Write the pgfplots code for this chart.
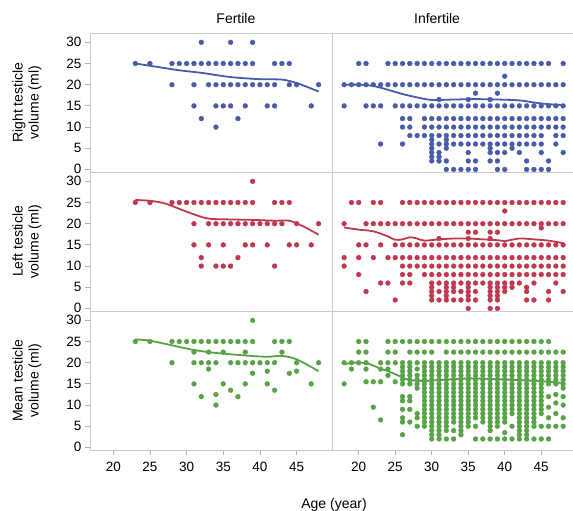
\documentclass[border=0pt]{standalone}
\usepackage{fontspec}
\setmainfont{Liberation Sans}
\usepackage{pgfplots}
\pgfplotsset{compat=1.18}
\definecolor{bdot}{RGB}{72,92,168}
\definecolor{rdot}{RGB}{192,56,78}
\definecolor{gdot}{RGB}{88,162,72}
\pgfplotsset{
 panel/.style={scale only axis, height=139pt, ymin=-0.6, ymax=32.2,
   axis line style={draw=gray!40, line width=0.9pt},
   tick style={draw=gray!60, line width=0.8pt}, tick align=outside,
   major tick length=5pt,
   font=\fontsize{13.5}{16}\selectfont,
   /pgf/number format/assume math mode=true,
   xtick=\empty, ytick=\empty,
   xticklabel style={yshift=-4pt},
   yticklabel={\ifdim\tick pt=0pt \raisebox{1.6pt}{0}\else\ifdim\tick pt=30pt \raisebox{-1.6pt}{30}\else\pgfmathprintnumber{\tick}\fi\fi},
   title style={font=\fontsize{14}{16}\selectfont, anchor=base, yshift=3pt},
   ylabel style={align=center, font=\fontsize{14}{16}\selectfont, at={(axis description cs:-0.26,0.5)}, anchor=center}},
 leftp/.style={width=242pt, xmin=16.82, xmax=49.83, ytick={0,5,...,30}, ytick pos=left},
 rightp/.style={width=241pt, xmin=16.34, xmax=49.35},
 bottomp/.style={xtick={20,25,...,45}, xtick pos=bottom},
 dots/.style={only marks, mark=*, mark size=2.4pt, mark options={draw=#1, fill=#1}},
 fit/.style={no marks, smooth, line width=1.8pt, color=#1},
}
\begin{document}
\begin{tikzpicture}[x=1pt,y=1pt]
\useasboundingbox (0,0) rectangle (573,511);
% ---------- top left
\begin{axis}[panel, leftp, at={(90pt,478pt)}, anchor=north west,
  title={Fertile}, title style={at={(0.603,1)}},
  ylabel={Right testicle\\volume (ml)}]
\addplot[dots=bdot] coordinates {(32,30)(36,30)(39,30)
(23,25)(25,25)(28,25)(29,25)(30,25)(31,25)(32,25)(33,25)(34,25)(35,25)(36,25)(37,25)(38,25)(39,25)(42,25)(43,25)(44,25)
(28,20)(31,20)(33,20)(34,20)(35,20)(36,20)(37,20)(38,20)(39,20)(40,20)(41,20)(42,20)(44,20)(45,20)(48,20)
(31,15)(34,15)(35,15)(36,15)(38,15)(41,15)(42,15)(47,15)
(32,12)(37,12)(34,10)};
\addplot[fit=bdot] coordinates {(23,25.0)(26,24.2)(29,23.4)(32,22.8)(36,21.8)(40,21.3)(43,21.2)(45,20.4)(48,18.4)};
\end{axis}
% ---------- top right
\begin{axis}[panel, rightp, at={(332pt,478pt)}, anchor=north west,
  title={Infertile}, title style={at={(0.436,1)}}]
\addplot[dots=bdot] coordinates {
(20,25)(21,25)(24,25)(25,25)(26,25)(27,25)(28,25)(29,25)(30,25)(31,25)(32,25)(33,25)(34,25)(35,25)(36,25)(37,25)(38,25)(39,25)(40,25)(41,25)(42,25)(43,25)(44,25)(45,25)(46,25)(48,25)
(40,22)
(18,20)(19,20)(20,20)(21,20)(22,20)(23,20)(24,20)(25,20)(26,20)(27,20)(28,20)(29,20)(30,20)(31,20)(32,20)(33,20)(34,20)(35,20)(36,20)(37,20)(38,20)(39,20)(40,20)(41,20)(42,20)(43,20)(44,20)(45,20)(46,20)(47,20)(48,20)
(36,18)(39,18)(31,16.5)(35,16.5)(38,16.5)
(18,15)(21,15)(22,15)(23,15)(25,15)(26,15)(27,15)(28,15)(29,15)(30,15)(31,15)(32,15)(33,15)(34,15)(35,15)(36,15)(37,15)(38,15)(39,15)(40,15)(41,15)(42,15)(43,15)(44,15)(45,15)(46,15)(47,15)(48,15)
(26,12)(27,12)(29,12)(30,12)(31,12)(32,12)(33,12)(34,12)(35,12)(36,12)(37,12)(38,12)(39,12)(40,12)(41,12)(42,12)(43,12)(44,12)(45,12)(46,12)(47,12)(48,12)
(26,10)(27,10)(29,10)(30,10)(31,10)(32,10)(33,10)(34,10)(35,10)(36,10)(37,10)(38,10)(39,10)(40,10)(41,10)(42,10)(43,10)(44,10)(45,10)(46,10)(47,10)(48,10)
(27,8)(28,8)(29,8)(30,8)(31,8)(32,8)(33,8)(34,8)(35,8)(36,8)(37,8)(38,8)(39,8)(40,8)(41,8)(42,8)(43,8)(44,8)(45,8)(47,8)(48,8)
(30,7)(32,7)
(23,6)(26,6)(30,6)(31,6)(32,6)(33,6)(34,6)(35,6)(36,6)(37,6)(38,6)(39,6)(40,6)(41,6)(42,6)(43,6)(44,6)(45,6)(47,6)
(30,5)(32,5)(38,5)(41,5)
(30,4)(31,4)(35,4)(38,4)(39,4)(40,4)(42,4)(45,4)(48,4)
(30,3)(31,3)
(30,2)(31,2)(32,2)(35,2)(36,2)(38,2)(39,2)(43,2)(46,2)
(32,0)(33,0)(34,0)(35,0)(36,0)(39,0)(40,0)(43,0)(44,0)(45,0)(46,0)};
\addplot[fit=bdot] coordinates {(18,20.0)(20,20.0)(22,19.7)(24,18.8)(26,17.8)(28,17.0)(30,16.4)(33,16.5)(36,16.6)(39,16.5)(42,16.3)(44,15.8)(46,15.4)(48,15.2)};
\end{axis}
% ---------- middle left
\begin{axis}[panel, leftp, at={(90pt,339pt)}, anchor=north west,
  ylabel={Left testicle\\volume (ml)}]
\addplot[dots=rdot] coordinates {(39,30)
(23,25)(25,25)(28,25)(29,25)(30,25)(31,25)(32,25)(33,25)(34,25)(35,25)(36,25)(37,25)(38,25)(39,25)(42,25)(43,25)(44,25)
(31,20)(33,20)(34,20)(35,20)(36,20)(37,20)(38,20)(39,20)(40,20)(41,20)(42,20)(43,20)(45,20)(48,20)
(31,15)(33,15)(35,15)(38,15)(39,15)(41,15)(44,15)(45,15)(47,15)
(32,12)(37,12)
(32,10)(34,10)(35,10)(36,10)(42,10)};
\addplot[fit=rdot] coordinates {(23,25.6)(25,25.4)(27,24.8)(29,23.5)(31,22.2)(33,21.2)(36,21.0)(39,20.9)(42,20.7)(44,20.7)(46,19.3)(48,17.4)};
\end{axis}
% ---------- middle right
\begin{axis}[panel, rightp, at={(332pt,339pt)}, anchor=north west]
\addplot[dots=rdot] coordinates {
(19,25)(20,25)(22,25)(23,25)(26,25)(27,25)(28,25)(29,25)(30,25)(31,25)(32,25)(33,25)(34,25)(35,25)(36,25)(37,25)(38,25)(39,25)(40,25)(41,25)(42,25)(43,25)(44,25)(45,25)(46,25)(47,25)(48,25)
(40,23)
(18,20)(21,20)(22,20)(23,20)(24,20)(25,20)(26,20)(27,20)(28,20)(29,20)(30,20)(31,20)(32,20)(33,20)(34,20)(35,20)(36,20)(37,20)(38,20)(39,20)(40,20)(41,20)(42,20)(43,20)(44,20)(45,20)(46,20)(47,20)(48,20)
(45,19)(35,18)(36,18)(38,18)(39,18)(31,16.5)(35,16.5)(38,16.5)
(20,15)(21,15)(23,15)(25,15)(26,15)(27,15)(28,15)(29,15)(30,15)(31,15)(32,15)(33,15)(34,15)(35,15)(36,15)(37,15)(38,15)(39,15)(40,15)(41,15)(42,15)(43,15)(44,15)(45,15)(46,15)(47,15)(48,15)
(18,12)(20,12)(22,12)(24,12)(25,12)(26,12)(27,12)(28,12)(29,12)(30,12)(31,12)(32,12)(33,12)(34,12)(35,12)(36,12)(37,12)(38,12)(39,12)(40,12)(41,12)(42,12)(43,12)(44,12)(45,12)(46,12)(47,12)(48,12)
(18,10)(26,10)(27,10)(28,10)(29,10)(30,10)(31,10)(32,10)(33,10)(34,10)(35,10)(36,10)(37,10)(38,10)(39,10)(40,10)(41,10)(42,10)(43,10)(44,10)(45,10)(46,10)(47,10)(48,10)
(20,8)(26,8)(27,8)(29,8)(30,8)(31,8)(32,8)(33,8)(34,8)(35,8)(36,8)(37,8)(38,8)(39,8)(40,8)(41,8)(42,8)(43,8)(44,8)(45,8)(46,8)(47,8)(48,8)
(23,6)(24,6)(26,6)(27,6)(30,6)(31,6)(32,6)(33,6)(34,6)(35,6)(36,6)(37,6)(38,6)(39,6)(40,6)(41,6)(42,6)(44,6)(47,6)
(30,5)(32,5)(33,5)(35,5)(38,5)(39,5)(40,5)(41,5)(43,5)
(21,4)(30,4)(31,4)(32,4)(33,4)(34,4)(35,4)(36,4)(38,4)(39,4)(40,4)(43,4)(46,4)(48,4)
(30,3)(32,3)(35,3)(38,3)(39,3)
(25,2)(30,2)(31,2)(32,2)(33,2)(34,2)(35,2)(36,2)(38,2)(39,2)(43,2)(44,2)(46,2)
(35,0)(38,0)(39,0)};
\addplot[fit=rdot] coordinates {(18,19.1)(20,18.6)(22,18.2)(24,17.0)(25,16.2)(26,16.3)(27,16.8)(28,16.5)(29,16.0)(31,16.3)(33,16.5)(35,16.5)(37,16.3)(39,16.1)(40,15.9)(42,16.5)(44,16.3)(46,16.0)(48,15.4)};
\end{axis}
% ---------- bottom left
\begin{axis}[panel, leftp, bottomp, at={(90pt,200pt)}, anchor=north west,
  ylabel={Mean testicle\\volume (ml)}]
\addplot[dots=gdot] coordinates {(39,30)
(23,25)(25,25)(28,25)(29,25)(30,25)(31,25)(32,25)(33,25)(34,25)(35,25)(36,25)(37,25)(38,25)(39,25)(42,25)(43,25)(44,25)
(31,22.5)(33,22.5)(35,22.5)(38,22.5)(43,22.5)
(28,20)(31,20)(32,20)(33,20)(34,20)(36,20)(37,20)(38,20)(39,20)(40,20)(41,20)(42,20)(45,20)(48,20)
(33,18.5)(39,17.5)(41,18)(44,17.5)(45,18)
(31,15)(35,15)(38,15)(41,15)(47,15)
(36,13.5)(42,13.5)(34,12.5)(32,12)(37,12)(34,10)};
\addplot[fit=gdot] coordinates {(23,25.5)(25,25.2)(28,24.1)(31,23.0)(34,22.3)(38,21.7)(41,21.4)(43,21.6)(45,20.8)(48,18.0)};
\end{axis}
% ---------- bottom right
\begin{axis}[panel, rightp, bottomp, at={(332pt,200pt)}, anchor=north west]
\addplot[dots=gdot] coordinates {
(18,20)(18,15)(19,20)(19,18.5)(20,25)(20,22.5)(20,20)
(21,25)(21,22.5)(21,20)(21,18.5)(21,15.5)(22,15.5)(22,9.5)
(23,20)(23,18.5)(23,15.5)(23,6.5)
(24,25)(24,22.5)(24,20)(24,18.5)(24,17)
(25,25)(25,22.5)(25,20)(25,15.5)
(26,25)(26,20)(26,19)(26,18)(26,17)(26,16)(26,15)(26,12)(26,11)(26,9)(26,7)(26,6)(26,3)
(27,25)(27,22.5)(27,20)(27,19)(27,18)(27,17)(27,16)(27,15)(27,12)(27,11)(27,9)(27,6)
(28,25)(28,22.5)(28,20)(28,18.5)(28,17)(28,16)(28,15)(28,14)(28,8)(28,7)(28,5)
(29,25)(29,22.5)(29,20)(29,19)(29,18)(29,17)(29,16)(29,15)(29,14)(29,13)(29,12)(29,11)(29,10)(29,9)(29,8)(29,7)(29,6)(29,5)
(30,25)(30,22.5)(30,20)(30,19)(30,18)(30,17)(30,16)(30,15)(30,14)(30,13)(30,12)(30,11)(30,10)(30,9)(30,8)(30,7)(30,6)(30,5)(30,4)(30,3)(30,2)
(31,25)(31,20)(31,19)(31,18)(31,17)(31,16)(31,15)(31,14)(31,13)(31,12)(31,11)(31,10)(31,9)(31,8)(31,7)(31,6)(31,5)(31,4)(31,3)(31,2)
(32,25)(32,22.5)(32,20)(32,19)(32,18)(32,17)(32,16)(32,15)(32,14)(32,13)(32,12)(32,11)(32,10)(32,9)(32,8)(32,7)(32,6)(32,5)(32,4)(32,2)
(33,25)(33,22.5)(33,20)(33,19)(33,18)(33,17)(33,16)(33,15)(33,14)(33,13)(33,12)(33,11)(33,10)(33,9)(33,8)(33,7)(33,6)(33,4)(33,2)
(34,25)(34,22.5)(34,20)(34,19)(34,18)(34,17)(34,16)(34,15)(34,14)(34,13)(34,12)(34,11)(34,10)(34,9)(34,8)(34,7)(34,6)(34,5)(34,4)(34,3)
(35,25)(35,22.5)(35,20)(35,19)(35,18)(35,17)(35,16)(35,15)(35,14)(35,13)(35,12)(35,11)(35,10)(35,9)(35,8)(35,7)(35,6)(35,5)
(36,25)(36,22.5)(36,20)(36,19)(36,18)(36,17)(36,16)(36,15)(36,14)(36,13)(36,12)(36,11)(36,10)(36,9)(36,8)(36,7)(36,5)(36,2)
(37,25)(37,22.5)(37,20)(37,19)(37,18)(37,17)(37,16)(37,15)(37,14)(37,13)(37,12)(37,11)(37,10)(37,9)(37,8)(37,7)(37,6)(37,2)
(38,25)(38,22.5)(38,20)(38,19)(38,18)(38,17)(38,16)(38,15)(38,14)(38,13)(38,12)(38,11)(38,10)(38,9)(38,8)(38,7)(38,6)(38,5)(38,4)(38,2)
(39,25)(39,22.5)(39,20)(39,19)(39,18)(39,17)(39,16)(39,15)(39,14)(39,13)(39,12)(39,11)(39,10)(39,9)(39,8)(39,7)(39,6)(39,5)(39,2)
(40,25)(40,22.5)(40,20)(40,19)(40,18)(40,17)(40,16)(40,15)(40,14)(40,13)(40,12)(40,11)(40,10)(40,9)(40,8)(40,7)(40,6)(40,3.5)(40,2)
(41,25)(41,22.5)(41,20)(41,19)(41,18)(41,17)(41,16)(41,15)(41,14)(41,13)(41,12)(41,11)(41,10)(41,9)(41,8)(41,5)(41,2)
(42,25)(42,22.5)(42,20)(42,19)(42,18)(42,17)(42,16)(42,15)(42,14)(42,13)(42,12)(42,11)(42,10)(42,9)(42,8)(42,7)(42,6)(42,5)(42,4)(42,3)(42,2)
(43,25)(43,22.5)(43,20)(43,19)(43,18)(43,17)(43,16)(43,15)(43,14)(43,13)(43,12)(43,11)(43,10)(43,9)(43,8)(43,7)(43,6)(43,5)(43,4)(43,3)(43,2)
(44,25)(44,22.5)(44,20)(44,19)(44,18)(44,17)(44,16)(44,15)(44,14)(44,13)(44,12)(44,11)(44,10)(44,9)(44,8)(44,7)(44,6)(44,5)(44,2)
(45,25)(45,22.5)(45,20)(45,19)(45,18)(45,17)(45,16)(45,15)(45,14)(45,13)(45,12)(45,11)(45,10)(45,9)(45,8)(45,5)(45,2)
(46,25)(46,22.5)(46,20)(46,19)(46,18)(46,17)(46,16)(46,15)(46,12)(46,9.5)(46,7)(46,5)(46,2)
(47,22.5)(47,20)(47,19)(47,18)(47,17)(47,16)(47,15)(47,12.5)(47,10.5)(47,8)(47,5)
(48,22.5)(48,20)(48,19)(48,18)(48,17)(48,16)(48,15)(48,14)(48,12)(48,10)(48,7)(48,5)};
\addplot[fit=gdot] coordinates {(18,19.6)(19,20.0)(21,19.9)(22,19.3)(23,18.6)(24,18.0)(25,17.3)(26,16.5)(27,15.9)(29,15.7)(32,16.0)(35,16.3)(39,16.1)(42,15.9)(44,15.7)(46,15.5)(48,15.2)};
\end{axis}
\node[font=\fontsize{14}{16}\selectfont] at (334,6) {Age (year)};
\end{tikzpicture}
\end{document}
